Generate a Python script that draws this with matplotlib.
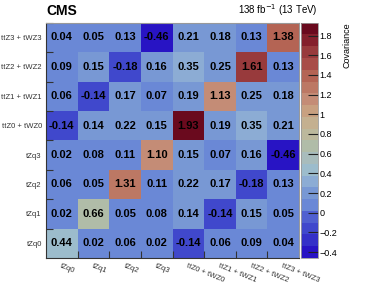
import matplotlib
matplotlib.use('agg')
import matplotlib.pyplot as plt
import numpy as np
from matplotlib.colors import ListedColormap, BoundaryNorm

plt.rcParams['font.family'] = ['Liberation Sans', 'DejaVu Sans']

# bins, bottom to top / left to right
labels = ['tZq0', 'tZq1', 'tZq2', 'tZq3',
          'ttZ0 + tWZ0', 'ttZ1 + tWZ1', 'ttZ2 + tWZ2', 'ttZ3 + tWZ3']

row_tzq0 = [0.44, 0.02, 0.06, 0.02, -0.14, 0.06, 0.09, 0.04]
row_tzq1 = [0.02, 0.66, 0.05, 0.08, 0.14, -0.14, 0.15, 0.05]
row_tzq2 = [0.06, 0.05, 1.31, 0.11, 0.22, 0.17, -0.18, 0.13]
row_tzq3 = [0.02, 0.08, 0.11, 1.10, 0.15, 0.07, 0.16, -0.46]
row_ttz0 = [-0.14, 0.14, 0.22, 0.15, 1.93, 0.19, 0.35, 0.21]
row_ttz1 = [0.06, -0.14, 0.17, 0.07, 0.19, 1.13, 0.25, 0.18]
row_ttz2 = [0.09, 0.15, -0.18, 0.16, 0.35, 0.25, 1.61, 0.13]
row_ttz3 = [0.04, 0.05, 0.13, -0.46, 0.21, 0.18, 0.13, 1.38]

cbar_ticks = [-0.4, -0.2, 0, 0.2, 0.4, 0.6, 0.8, 1, 1.2, 1.4, 1.6, 1.8]

cov = np.array([row_tzq0, row_tzq1, row_tzq2, row_tzq3,
                row_ttz0, row_ttz1, row_ttz2, row_ttz3])

# 20 contour colours, like the ROOT palette in the original
band_colors = ['#2814c4', '#3430c8', '#4048cc', '#5060d0', '#6a88d6',
               '#7898d4', '#8cacd4', '#9cbccc', '#a8bcbc', '#b0bca8',
               '#bcb89c', '#c4b090', '#c8a080', '#c48c76', '#bc7864',
               '#b46454', '#a84c48', '#983a3c', '#84202c', '#6a0a1e']
vmin, vmax = cov.min(), cov.max()
levels = np.linspace(vmin, vmax, len(band_colors) + 1)
cmap = ListedColormap(band_colors)
norm = BoundaryNorm(levels, cmap.N)

fig = plt.figure(figsize=(3.74, 3.04), dpi=100)
ax = fig.add_axes([0.123, 0.1513, 0.6765, 0.774])
cax = fig.add_axes([0.805, 0.1513, 0.045, 0.774])

n = len(labels)
edges = np.arange(n + 1)
mesh = ax.pcolormesh(edges, edges, cov, cmap=cmap, norm=norm)
for i in range(n):
    for j in range(n):
        ax.text(j + 0.5, i + 0.5, f'{cov[i, j]:.2f}', ha='center', va='center',
                fontsize=8, fontweight='bold', color='black')

ax.set_xlim(0, n)
ax.set_ylim(0, n)
ax.set_xticks(np.arange(n) + 0.5)
ax.set_yticks(np.arange(n) + 0.5)
ax.set_xticklabels(labels, rotation=-22, ha='left', va='top',
                   rotation_mode='anchor', fontsize=5.5, color='#333333')
ax.set_yticklabels(labels, fontsize=5.5, color='#333333')
ax.tick_params(which='major', length=0, pad=3)
ax.set_xticks(edges[1:-1], minor=True)
ax.set_yticks(edges[1:], minor=True)
ax.tick_params(which='minor', direction='in', length=5, width=0.8, color='#333333')
for s in ax.spines.values():
    s.set_color('#999999')
    s.set_linewidth(0.8)
ax.spines['left'].set_color('#333333')
ax.spines['bottom'].set_color('#333333')

cb = fig.colorbar(mesh, cax=cax, ticks=cbar_ticks)
cb.outline.set_edgecolor('#999999')
cb.outline.set_linewidth(0.6)
cax.set_yticklabels(['\u22120.4', '\u22120.2', '0', '0.2', '0.4', '0.6', '0.8',
                     '1', '1.2', '1.4', '1.6', '1.8'])
cax.tick_params(direction='in', length=7, width=0.8, labelsize=6.5,
                pad=1, color='#222222')
cax.minorticks_off()
fig.text(0.915, 0.925, 'Covariance', rotation=90, ha='left', va='top',
         fontsize=6.5)

fig.text(0.123, 0.94, 'CMS', fontsize=10, fontweight='bold', ha='left',
         va='bottom')
fig.text(0.85, 0.94, r'138 fb$^{-1}$ (13 TeV)', fontsize=7, ha='right',
         va='bottom')

fig.savefig('out.png', dpi=100)
